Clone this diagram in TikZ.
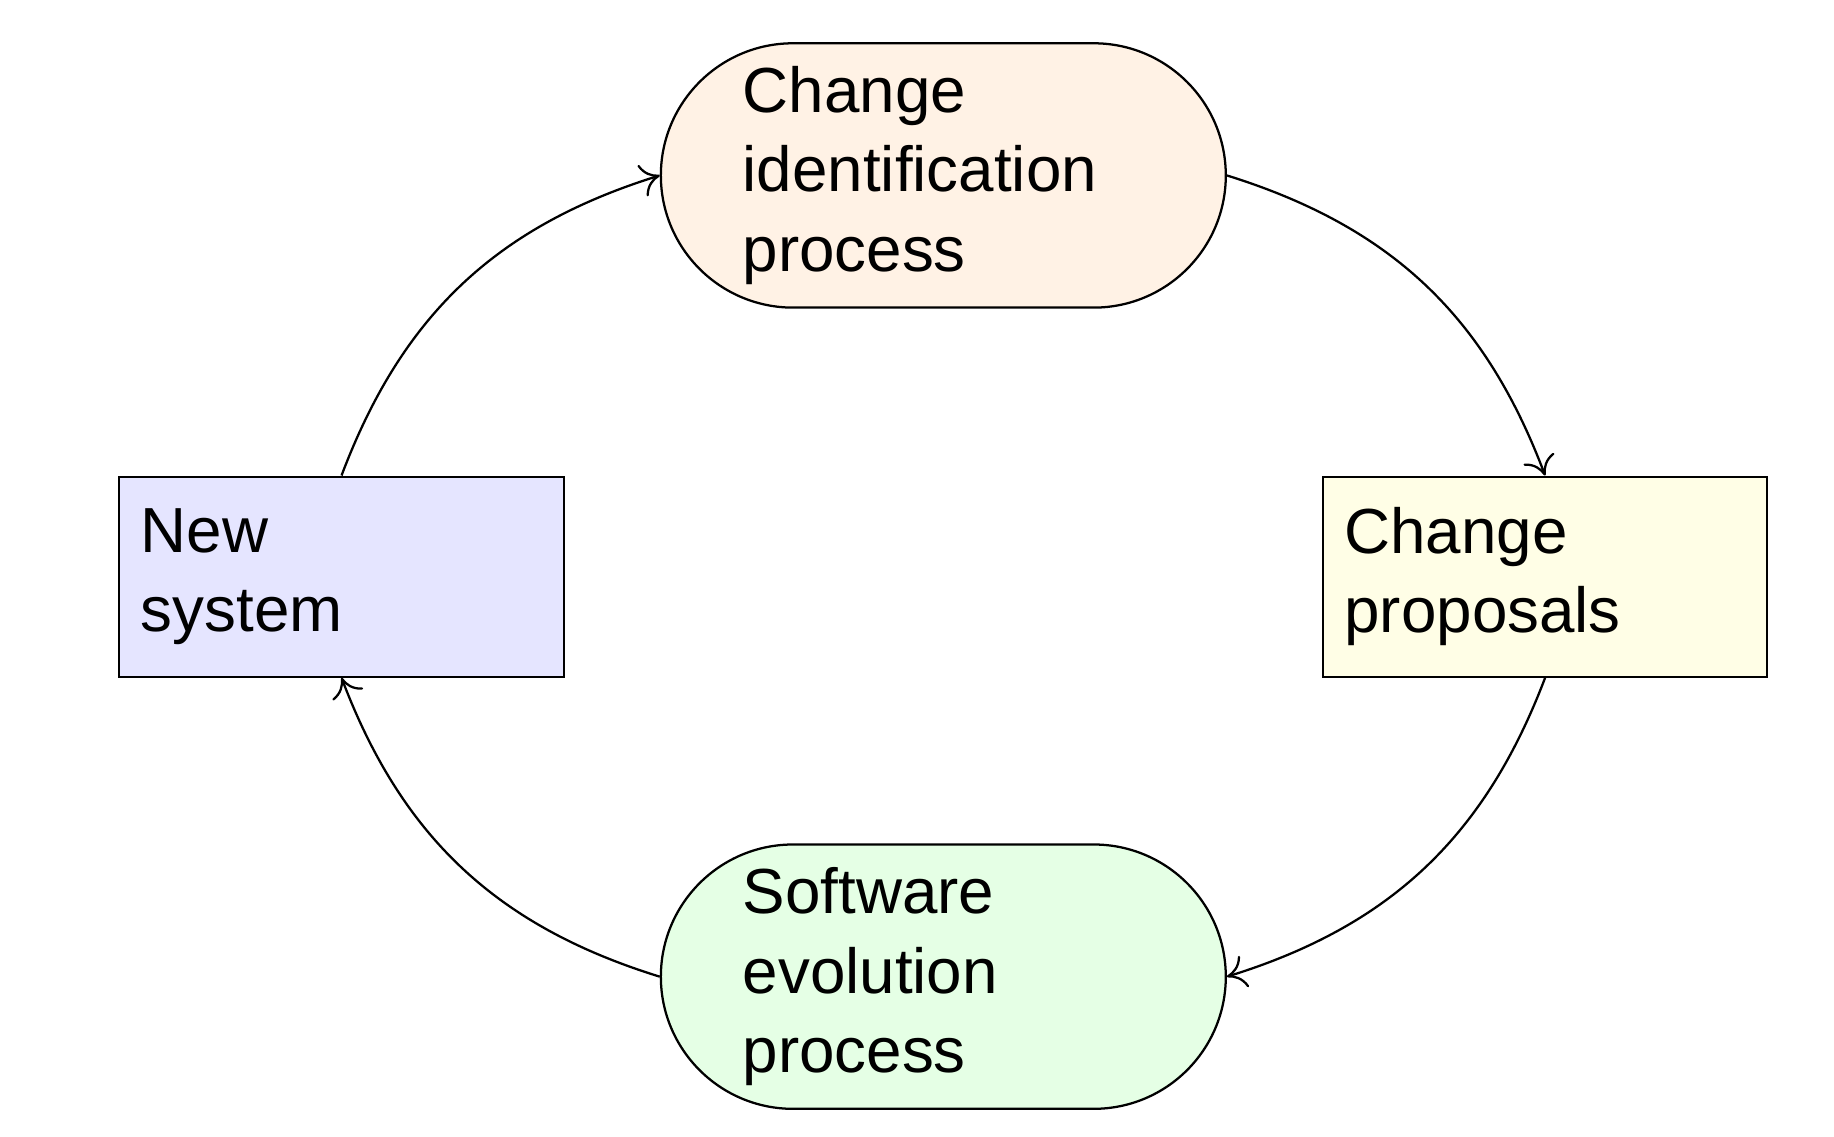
\documentclass[tikz,border=0pt]{standalone}
\usepackage{fontspec}
\setmainfont{Liberation Sans}
\usetikzlibrary{shapes.misc,arrows.meta}

\begin{document}
\begin{tikzpicture}[
	>={To[length=4.5pt,width=8pt]},
	line width=0.55pt,
	process/.style = {draw, rounded rectangle, minimum width=4.83cm, minimum height=2.26cm,
		text width=3.43cm, align=left, inner sep=0pt},
	artefact/.style = {draw, rectangle, minimum width=3.8cm, minimum height=1.71cm,
		text width=3.43cm, align=left, inner sep=0pt},
	every node/.style = {font=\fontsize{15.5}{19.4}\selectfont}
	]
	\useasboundingbox (0,0) rectangle (15.68,9.72);
	\node[process, fill=orange!10] (changeid) at (8.065,8.22) {Change\\identification\\process};
	\node[artefact, fill=yellow!10] (proposals) at (13.21,4.79) {Change\\proposals};
	\node[process, fill=green!10] (evolution) at (8.065,1.37) {Software\\evolution\\process};
	\node[artefact, fill=blue!10] (newsys) at (2.92,4.79) {New\\system};
	\draw[->] (newsys.north) to[bend left=26] (changeid.west);
	\draw[->] (changeid.east) to[bend left=26] (proposals.north);
	\draw[->] (proposals.south) to[bend left=26] (evolution.east);
	\draw[->] (evolution.west) to[bend left=26] (newsys.south);
\end{tikzpicture}
\end{document}
